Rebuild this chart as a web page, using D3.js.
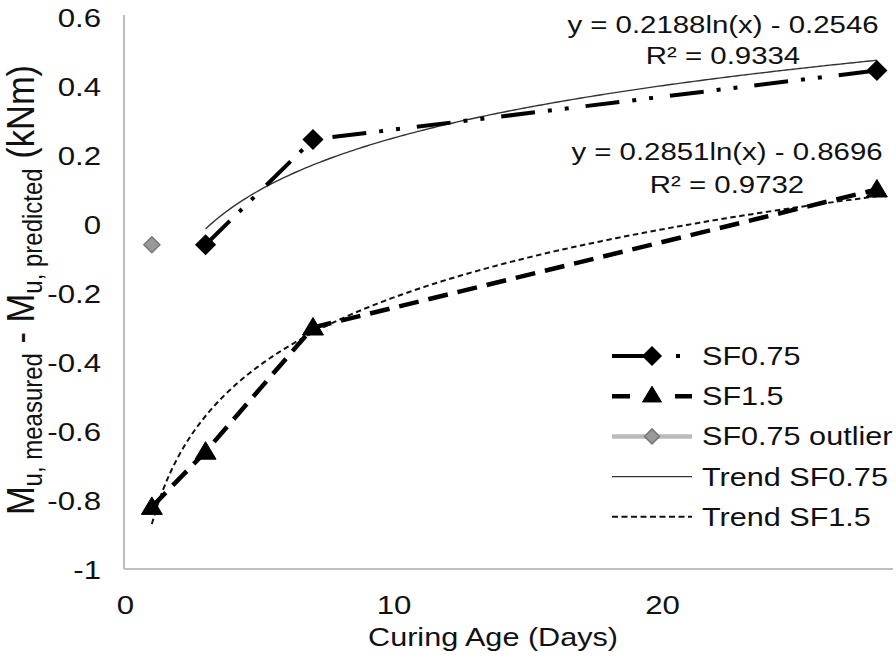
<!DOCTYPE html>
<html><head><meta charset="utf-8">
<script src="https://cdn.jsdelivr.net/npm/d3@7"></script>
<style>body{margin:0;background:#fff}svg{display:block}text{font-family:"Liberation Sans",Arial,sans-serif;fill:#111}</style>
</head><body>
<svg id="c" width="896" height="661"></svg>
<script>
// ---- data ----
const sf075X = [3, 7, 28];
const sf075Y = [-0.06, 0.245, 0.445];
const sf15X = [1, 3, 7, 28];
const sf15Y = [-0.82, -0.66, -0.30, 0.10];
const outlierX = [1];
const outlierY = [-0.06];
const trend075 = {a: 0.2188, b: -0.2546, from: 3, to: 28, eq: "y = 0.2188ln(x) - 0.2546", r2: "R² = 0.9334"};
const trend15 = {a: 0.2851, b: -0.8696, from: 1, to: 28, eq: "y = 0.2851ln(x) - 0.8696", r2: "R² = 0.9732"};
const xTicks = [0, 10, 20];
const yTicks = [-1, -0.8, -0.6, -0.4, -0.2, 0, 0.2, 0.4, 0.6];
const legendItems = ["SF0.75", "SF1.5", "SF0.75 outlier", "Trend SF0.75", "Trend SF1.5"];

const SX = 1.2, FS = 24, TFS = 26, LFS = 25.5;
const svg = d3.select("#c");
const x = d3.scaleLinear().domain([0, 28.6]).range([125, 893]);
const y = d3.scaleLinear().domain([-1, 0.6]).range([569, 17]);

function stext(parent, px, py, str, anchor, size) {
  return parent.append("text").attr("transform", `translate(${px},${py}) scale(${SX},1)`)
    .attr("text-anchor", anchor || "start").attr("font-size", size || FS).text(str);
}

// axes
const ax = svg.append("g").attr("transform", `translate(0,${y(-1)})`)
  .call(d3.axisBottom(x).tickValues(xTicks).tickSize(0).tickFormat(d3.format("d")));
ax.select(".domain").attr("stroke", "#bfbfbf").attr("stroke-width", 2.2).attr("d", `M${x(0)-1},0H${x(28.6)}`);
ax.selectAll("text").attr("font-size", TFS).attr("y", 0).attr("dy", 0)
  .attr("transform", `translate(0,45) scale(${SX},1)`).attr("fill", "#111").attr("font-family", null);
const ay = svg.append("g").attr("transform", `translate(${x(0)-1},0)`)
  .call(d3.axisLeft(y).tickValues(yTicks).tickSize(0).tickFormat(d => String(+d.toFixed(1))));
ay.select(".domain").attr("stroke", "#bfbfbf").attr("stroke-width", 2.2).attr("d", `M0,${y(0.6)-2}V${y(-1)}`);
ay.selectAll("text").attr("font-size", TFS).attr("x", 0).attr("dy", "0.35em")
  .attr("transform", `translate(-23,0) scale(${SX},1)`).attr("fill", "#111").attr("font-family", null);

// axis titles
stext(svg, 493, 646, "Curing Age (Days)", "middle", 25.5);
const yt = svg.append("text").attr("transform", `translate(34,290) scale(1.12,1) rotate(-90)`)
  .attr("text-anchor", "middle").attr("font-size", 34.5);
yt.append("tspan").text("M");
yt.append("tspan").attr("font-size", 24).attr("dy", 7).text("u, measured");
yt.append("tspan").attr("dy", -7).text(" - M");
yt.append("tspan").attr("font-size", 24).attr("dy", 7).text("u, predicted");
yt.append("tspan").attr("dy", -7).text(" (kNm)");

// trend lines
function trendPts(t) { return d3.range(0, 201).map(i => { const xv = t.from + (t.to - t.from) * i / 200; return [xv, t.a * Math.log(xv) + t.b]; }); }
const ln = d3.line().x(d => x(d[0])).y(d => y(d[1]));
svg.append("path").attr("d", ln(trendPts(trend075))).attr("fill", "none").attr("stroke", "#333").attr("stroke-width", 1.4);
svg.append("path").attr("d", ln(trendPts(trend15))).attr("fill", "none").attr("stroke", "#111").attr("stroke-width", 2).attr("stroke-dasharray", "5.5,3.5");

// series lines
const s075 = sf075X.map((v, i) => [v, sf075Y[i]]);
const s15 = sf15X.map((v, i) => [v, sf15Y[i]]);
const DASH075 = "34,13,4,13,4,17", DASH15 = "20,10";
svg.append("path").attr("d", ln(s075)).attr("fill", "none").attr("stroke", "#000").attr("stroke-width", 4).attr("stroke-dasharray", DASH075);
svg.append("path").attr("d", ln(s15)).attr("fill", "none").attr("stroke", "#000").attr("stroke-width", 4.5).attr("stroke-dasharray", DASH15);

function drawDiamond(g, cx, cy, r, fill, stroke) {
  g.append("path").attr("d", `M${cx},${cy-r}L${cx+r},${cy}L${cx},${cy+r}L${cx-r},${cy}Z`).attr("fill", fill).attr("stroke", stroke).attr("stroke-width", 1.5);
}
function drawTri(g, cx, cy, r, fill) {
  g.append("path").attr("d", `M${cx},${cy-r}L${cx+r*1.05},${cy+r*0.75}L${cx-r*1.05},${cy+r*0.75}Z`).attr("fill", fill).attr("stroke", fill).attr("stroke-width", 1);
}
s075.forEach(d => drawDiamond(svg, x(d[0]), y(d[1]), 9.5, "#000", "#000"));
s15.forEach(d => drawTri(svg, x(d[0]), y(d[1]), 10, "#000"));
outlierX.forEach((v, i) => drawDiamond(svg, x(v), y(outlierY[i]), 8, "#999", "#777"));

// equations
stext(svg, 723, 33, trend075.eq, "middle", 24.5);
stext(svg, 723, 64, trend075.r2, "middle", 24.5);
stext(svg, 727, 160, trend15.eq, "middle", 24.5);
stext(svg, 727, 193, trend15.r2, "middle", 24.5);

// legend
const lx0 = 612, lx1 = 692, ltx = 702, ly0 = 356, lstep = 40.2;
const lg = svg.append("g");
legendItems.forEach((name, i) => {
  const cy = ly0 + i * lstep;
  stext(lg, ltx, cy + 9, name, "start", LFS);
  const line = lg.append("line").attr("x1", lx0).attr("x2", lx1).attr("y1", cy).attr("y2", cy).attr("fill", "none");
  if (i === 0) { line.attr("stroke", "#000").attr("stroke-width", 4).attr("stroke-dasharray", "38,26,4,40"); drawDiamond(lg, 652, cy, 9, "#000", "#000"); }
  if (i === 1) { line.attr("stroke", "#000").attr("stroke-width", 4.5).attr("stroke-dasharray", "18,45,18"); drawTri(lg, 652, cy - 1, 9, "#000"); }
  if (i === 2) { line.attr("stroke", "#bbb").attr("stroke-width", 4.5); drawDiamond(lg, 652, cy, 7.5, "#999", "#777"); }
  if (i === 3) { line.attr("stroke", "#333").attr("stroke-width", 1.4); }
  if (i === 4) { line.attr("stroke", "#111").attr("stroke-width", 2).attr("stroke-dasharray", "6,3.5"); }
});
</script>
</body></html>
